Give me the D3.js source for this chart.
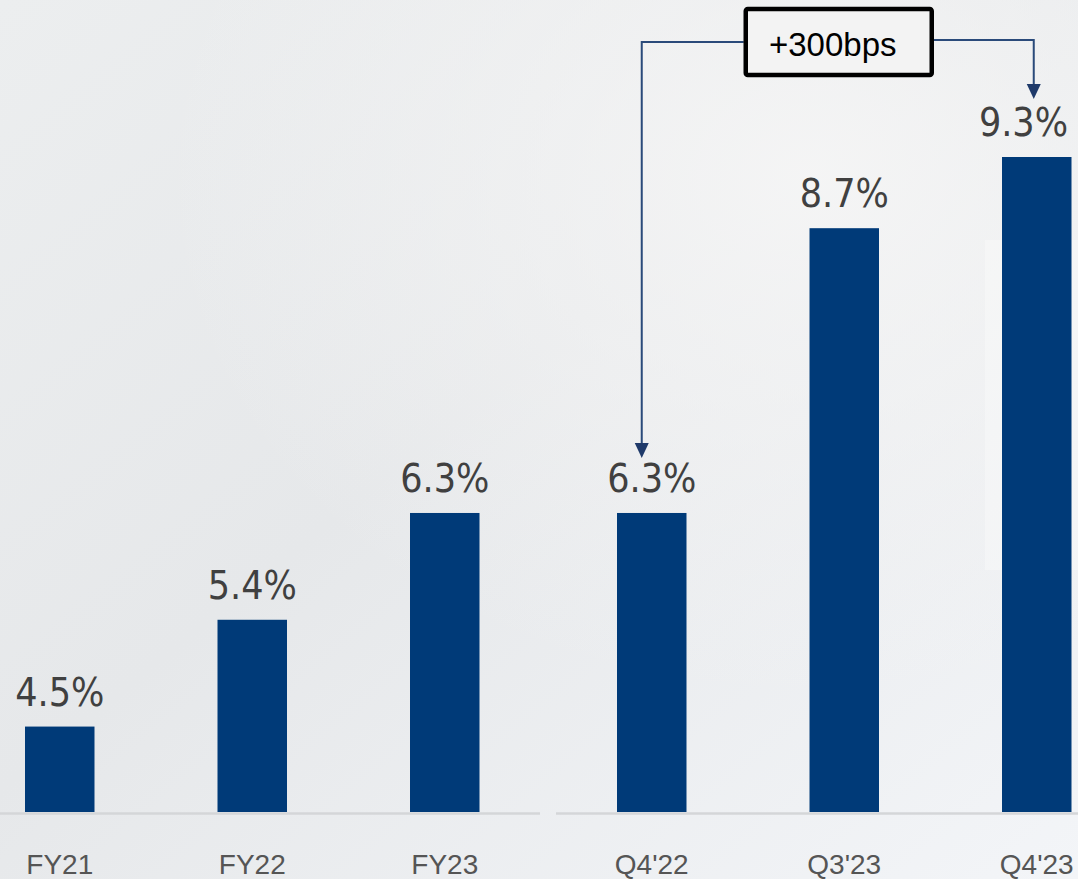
<!DOCTYPE html>
<html>
<head>
<meta charset="utf-8">
<script src="https://cdn.jsdelivr.net/npm/d3@7"></script>
<style>
  body { margin: 0; background: #eef0f2; }
  svg { display: block; }
</style>
</head>
<body>
<div id="chart"></div>
<script>
// values
const fyCategories = ["FY21", "FY22", "FY23"];
const fyValues = [4.5, 5.4, 6.3];
const qCategories = ["Q4'22", "Q3'23", "Q4'23"];
const qValues = [6.3, 8.7, 9.3];
const changeLabel = "+300bps";

const width = 1078;
const height = 879;
const baseline = 812;
const barColor = "#003a78";

const svg = d3.select("#chart").append("svg")
    .attr("width", width)
    .attr("height", height);

// background
const defs = svg.append("defs");
const bg = defs.append("linearGradient").attr("id", "bg")
    .attr("x1", "0").attr("y1", "0").attr("x2", "1").attr("y2", "1");
bg.append("stop").attr("offset", "0%").attr("stop-color", "#eceeef");
bg.append("stop").attr("offset", "45%").attr("stop-color", "#e6e8ea");
bg.append("stop").attr("offset", "100%").attr("stop-color", "#f3f5f8");
const glow = defs.append("radialGradient").attr("id", "glow")
    .attr("cx", "0.75").attr("cy", "0.2").attr("r", "0.6");
glow.append("stop").attr("offset", "0%").attr("stop-color", "#f6f6f6").attr("stop-opacity", 0.9);
glow.append("stop").attr("offset", "100%").attr("stop-color", "#f6f6f6").attr("stop-opacity", 0);

svg.append("rect").attr("width", width).attr("height", height).attr("fill", "url(#bg)");
svg.append("rect").attr("width", width).attr("height", height).attr("fill", "url(#glow)");
svg.append("rect").attr("x", 985).attr("y", 240).attr("width", 93).attr("height", 330)
    .attr("fill", "#ffffff").attr("opacity", 0.3);

// scales
const xFY = d3.scaleBand()
    .domain(fyCategories)
    .range([25, 479.5])
    .paddingInner(0.639)
    .paddingOuter(0);

const xQ = d3.scaleBand()
    .domain(qCategories)
    .range([617, 1071.5])
    .paddingInner(0.639)
    .paddingOuter(0);

const y = d3.scaleLinear()
    .domain([3.78, 9.3])
    .range([baseline, 157]);

const groups = [
  {x: xFY, cats: fyCategories, vals: fyValues, line: [0, 540]},
  {x: xQ, cats: qCategories, vals: qValues, line: [556, width]}
];

groups.forEach(function(g) {
  const rows = g.cats.map(function(c, i) { return {cat: c, val: g.vals[i]}; });

  // baseline segment
  svg.append("line")
      .attr("x1", g.line[0]).attr("x2", g.line[1])
      .attr("y1", baseline + 1.5).attr("y2", baseline + 1.5)
      .attr("stroke", "#d4d6d8")
      .attr("stroke-width", 2.5);

  svg.append("g")
    .selectAll("rect")
    .data(rows)
    .enter().append("rect")
      .attr("x", function(d) { return g.x(d.cat); })
      .attr("y", function(d) { return y(d.val); })
      .attr("width", g.x.bandwidth())
      .attr("height", function(d) { return baseline - y(d.val); })
      .attr("fill", barColor);

  svg.append("g")
    .selectAll("text")
    .data(rows)
    .enter().append("text")
      .attr("x", function(d) { return g.x(d.cat) + g.x.bandwidth() / 2; })
      .attr("y", function(d) { return y(d.val) - 21; })
      .attr("text-anchor", "middle")
      .attr("font-family", "DejaVu Sans Condensed, DejaVu Sans")
      .attr("font-size", 39)
      .attr("fill", "#404040")
      .text(function(d) { return d.val.toFixed(1) + "%"; })
      .each(function() {
        // keep the label inside the picture, like the last one in the reference
        const w = this.getComputedTextLength();
        const cx = +d3.select(this).attr("x");
        if (cx + w / 2 > width - 10) {
          d3.select(this).attr("text-anchor", "end").attr("x", width - 10);
        }
      });

  const axis = svg.append("g")
      .attr("transform", "translate(0," + (baseline + 1) + ")")
      .call(d3.axisBottom(g.x).tickSize(0).tickPadding(41));
  axis.select(".domain").remove();
  axis.selectAll("text")
      .attr("font-family", "Liberation Sans, Arial")
      .attr("font-size", 28)
      .attr("fill", "#555555");
});

// +300bps annotation between Q4'22 and Q4'23
const first = qCategories[0], last = qCategories[qCategories.length - 1];
const lx = xQ(first) + xQ.bandwidth() / 2 - 10;
const rx = xQ(last) + xQ.bandwidth() / 2 - 3;
const ly = y(qValues[0]) - 21 - 34;
const ry = y(qValues[qValues.length - 1]) - 21 - 37;
const lineY = 42;
const boxW = 190, boxH = 70;
const cx = (lx + rx) / 2 + 1;
const navy = "#2a4a7a";

svg.append("path")
    .attr("d", "M" + (cx - boxW / 2) + "," + lineY + "H" + lx + "V" + (ly - 13))
    .attr("fill", "none").attr("stroke", navy).attr("stroke-width", 2);
svg.append("path")
    .attr("d", "M" + (cx + boxW / 2) + "," + (lineY - 2) + "H" + rx + "V" + (ry - 13))
    .attr("fill", "none").attr("stroke", navy).attr("stroke-width", 2);
[[lx, ly], [rx, ry]].forEach(function(p) {
  svg.append("path")
      .attr("d", "M" + (p[0] - 7) + "," + (p[1] - 15) + "L" + (p[0] + 7) + "," + (p[1] - 15) + "L" + p[0] + "," + p[1] + "Z")
      .attr("fill", "#1f3a6a");
});

svg.append("rect")
    .attr("x", cx - boxW / 2 + 2).attr("y", lineY - boxH / 2 + 2)
    .attr("width", boxW - 4).attr("height", boxH - 4)
    .attr("rx", 2)
    .attr("fill", "#f3f3f3")
    .attr("stroke", "#000000")
    .attr("stroke-width", 4.5);
svg.append("text")
    .attr("x", cx - 6).attr("y", lineY + 14)
    .attr("text-anchor", "middle")
    .attr("font-family", "Liberation Sans, Arial")
    .attr("font-size", 33)
    .attr("fill", "#000000")
    .text(changeLabel);
</script>
</body>
</html>
